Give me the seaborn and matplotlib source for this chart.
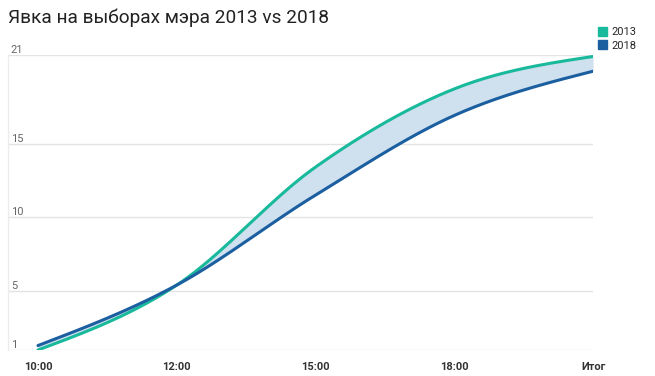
import numpy as np
import pandas as pd
import matplotlib
matplotlib.use("Agg")
import matplotlib.pyplot as plt
from matplotlib.patches import Patch
import seaborn as sns

# turnout values
times = ["10:00", "12:00", "15:00", "18:00", "Итог"]
turnout_2013 = [1.0, 5.4, 13.4, 18.7, 20.9]
turnout_2018 = [1.3, 5.4, 11.5, 16.9, 19.9]
y_ticks = [1, 5, 10, 15, 21]

c2013 = "#19b99b"
c2018 = "#1b5fa0"
fill_color = "#cfe0ef"


def monotone_curve(y, n=60):
    # d3-style monotoneX smoothing, only used to draw the curved line
    x = np.arange(len(y), dtype=float)
    y = np.asarray(y, dtype=float)
    s = np.diff(y)
    m = np.zeros_like(y)
    for i in range(1, len(y) - 1):
        s0, s1 = s[i - 1], s[i]
        p = (s0 + s1) / 2
        m[i] = (np.sign(s0) + np.sign(s1)) * min(abs(s0), abs(s1), 0.5 * abs(p))
    m[0] = (3 * s[0] - m[1]) / 2
    m[-1] = (3 * s[-1] - m[-2]) / 2
    xs, ys = [], []
    for i in range(len(y) - 1):
        t = np.linspace(0, 1, n, endpoint=(i == len(y) - 2))
        h00 = 2 * t**3 - 3 * t**2 + 1
        h10 = t**3 - 2 * t**2 + t
        h01 = -2 * t**3 + 3 * t**2
        h11 = t**3 - t**2
        xs.append(x[i] + t)
        ys.append(h00 * y[i] + h10 * m[i] + h01 * y[i + 1] + h11 * m[i + 1])
    return np.concatenate(xs), np.concatenate(ys)


x13, y13 = monotone_curve(turnout_2013)
x18, y18 = monotone_curve(turnout_2018)
curves = pd.concat([
    pd.DataFrame({"x": x13, "turnout": y13, "year": "2013"}),
    pd.DataFrame({"x": x18, "turnout": y18, "year": "2018"}),
])

sns.set_theme(style="white")
plt.rcParams["font.family"] = ["Roboto", "DejaVu Sans"]

fig = plt.figure(figsize=(6.55, 3.76), dpi=100)
ax = fig.add_axes([8 / 655, 1 - 350 / 376, (593 - 8) / 655, (350 - 55) / 376])

ax.fill_between(x13, y13, y18, color=fill_color, linewidth=0, zorder=1)
sns.lineplot(data=curves, x="x", y="turnout", hue="year", sort=False,
             palette={"2013": c2013, "2018": c2018}, linewidth=2.2,
             legend=False, ax=ax, zorder=3)

ax.set_xlim(-0.216, len(times) - 1)
ax.set_ylim(1, 21)
ax.set_xticks(range(len(times)))
ax.set_xticklabels(times, fontsize=8, fontweight="bold", color="#333333")
ax.set_yticks(y_ticks)
ax.set_yticklabels([str(v) for v in y_ticks], fontsize=8, color="#666666",
                   ha="left", va="bottom")
ax.tick_params(axis="y", length=0, pad=-2)
ax.tick_params(axis="x", length=0, pad=9)
ax.grid(axis="y", color="#e3e3e3", linewidth=1)
ax.grid(axis="x", visible=False)
ax.set_xlabel("")
ax.set_ylabel("")
for side in ["top", "right", "bottom"]:
    ax.spines[side].set_visible(False)
ax.spines["left"].set_color("#ececec")
ax.spines["left"].set_linewidth(1)

fig.text(8 / 655, 1 - 18 / 376, "Явка на выборах мэра 2013 vs 2018",
         fontsize=13.7, color="#222222", va="center", ha="left")

handles = [Patch(color=c2013, label="2013"), Patch(color=c2018, label="2018")]
fig.legend(handles=handles, loc="upper left", bbox_to_anchor=(598 / 655, 1 - 27 / 376),
           frameon=False, fontsize=8, handlelength=0.8, handleheight=0.8,
           handletextpad=0.4, labelspacing=0.3, borderpad=0, borderaxespad=0)

fig.savefig("out.png", dpi=100, facecolor="white")
